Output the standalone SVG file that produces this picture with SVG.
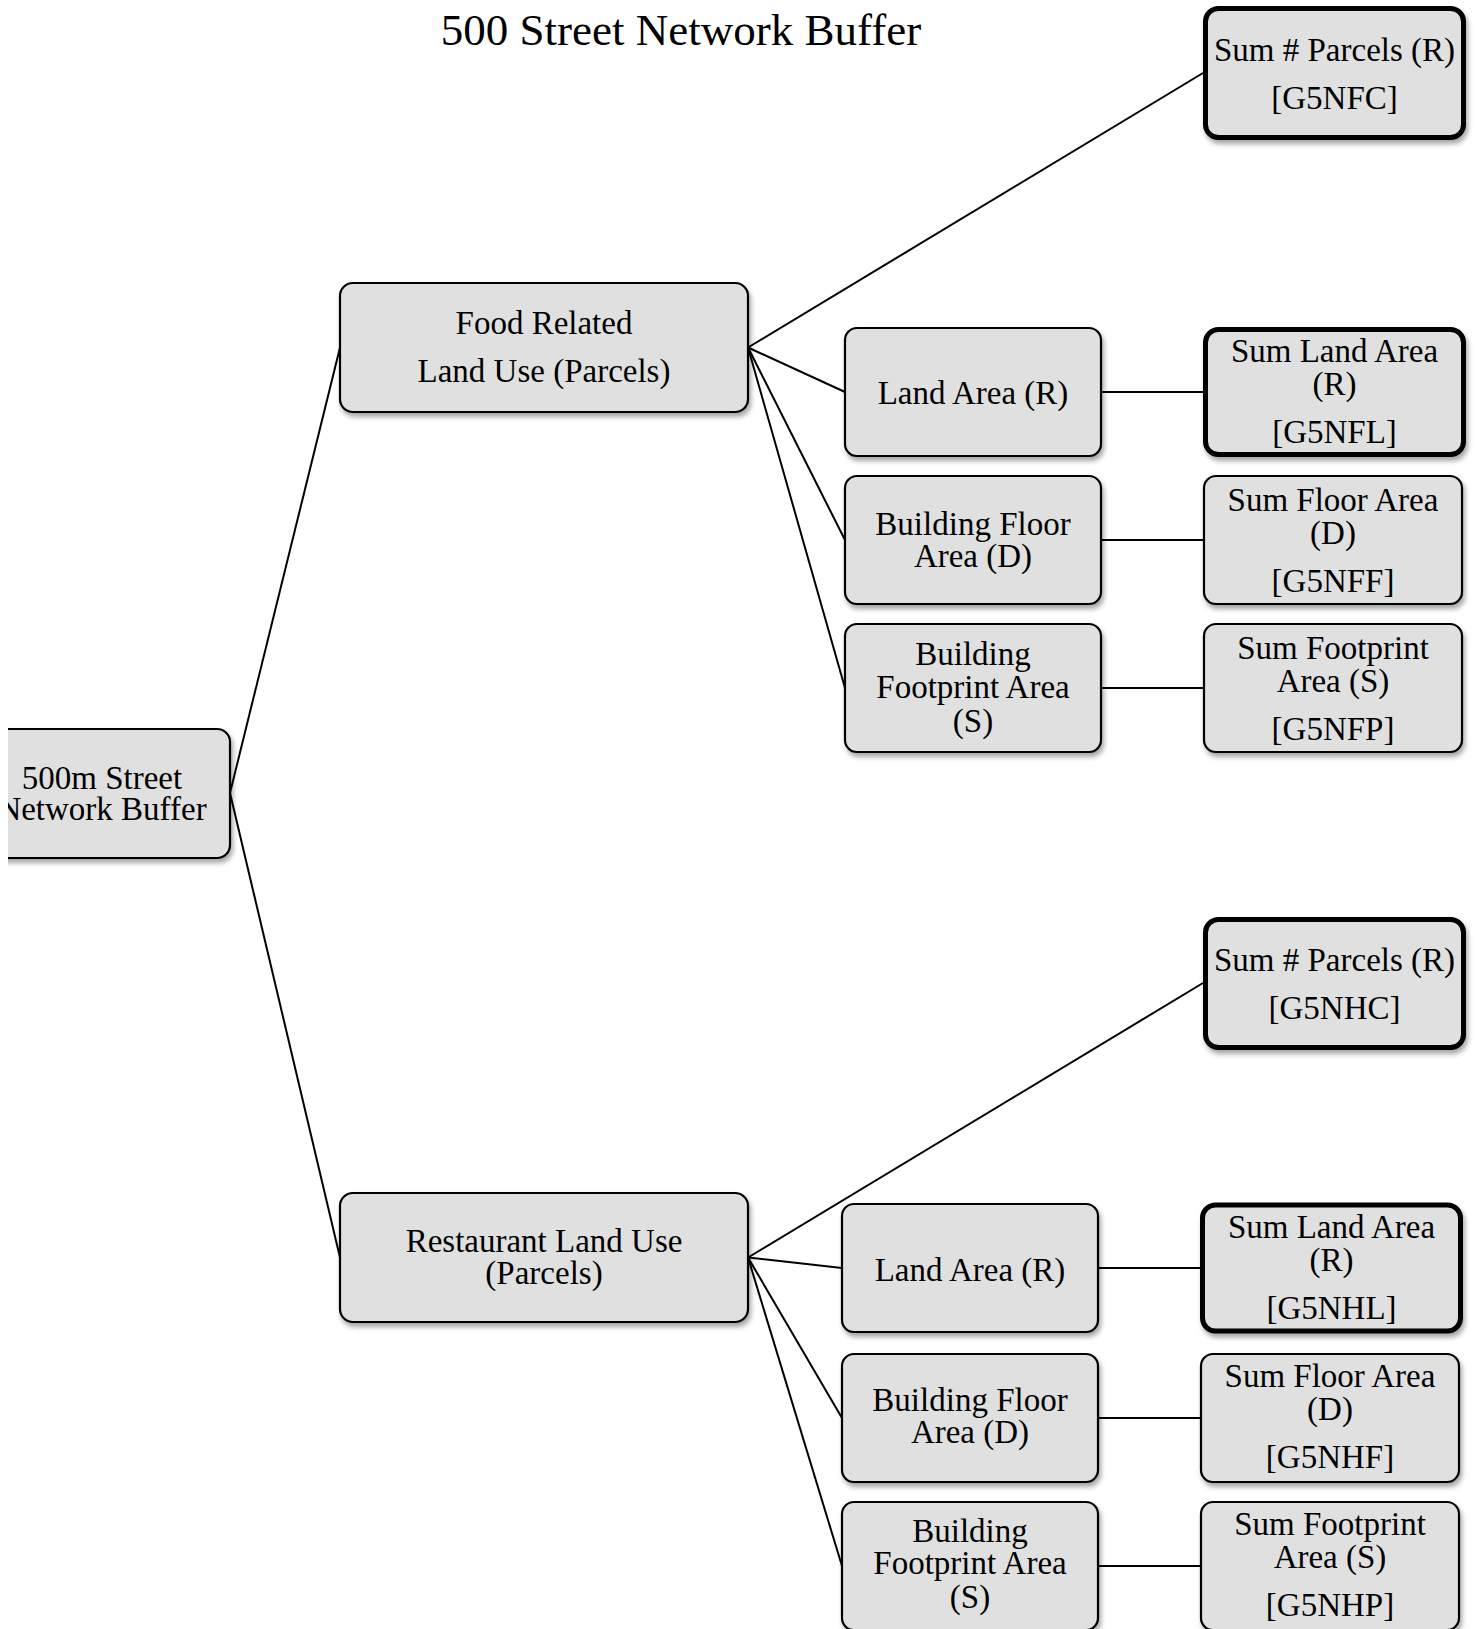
<svg xmlns="http://www.w3.org/2000/svg" width="1476" height="1629" viewBox="0 0 1476 1629">
<defs>
<filter id="sh" x="-10%" y="-10%" width="125%" height="130%">
<feDropShadow dx="2" dy="4" stdDeviation="2.5" flood-color="#000" flood-opacity="0.35"/>
</filter>
<clipPath id="clipL"><rect x="8" y="0" width="1468" height="1629"/></clipPath>
</defs>
<style>
.box{fill:#e0e0e0;stroke:#000;stroke-width:2.2;filter:url(#sh)}
.thick{fill:#e0e0e0;stroke:#000;stroke-width:5;filter:url(#sh)}
.t{font-family:"Liberation Serif","Times New Roman",serif;font-size:33px;fill:#000;text-anchor:middle}
.title{font-family:"Liberation Serif","Times New Roman",serif;font-size:45px;fill:#000;text-anchor:middle}
.conn line{stroke:#000;stroke-width:2}
</style>
<rect width="1476" height="1629" fill="#fff"/>
<text class="title" x="681" y="45">500 Street Network Buffer</text>

<g id="connectors" class="conn">
<line x1="230" y1="793" x2="340" y2="347.5"/>
<line x1="230" y1="793" x2="340" y2="1257.5"/>
<line x1="748" y1="347.5" x2="1203" y2="73"/>
<line x1="748" y1="347.5" x2="845" y2="392"/>
<line x1="748" y1="347.5" x2="845" y2="540"/>
<line x1="748" y1="347.5" x2="845" y2="688"/>
<line x1="1101" y1="392" x2="1204" y2="392"/>
<line x1="1101" y1="540" x2="1204" y2="540"/>
<line x1="1101" y1="688" x2="1204" y2="688"/>
<line x1="748" y1="1257.5" x2="1203" y2="983"/>
<line x1="748" y1="1257.5" x2="842" y2="1268"/>
<line x1="748" y1="1257.5" x2="842" y2="1418"/>
<line x1="748" y1="1257.5" x2="842" y2="1566"/>
<line x1="1098" y1="1268" x2="1201" y2="1268"/>
<line x1="1098" y1="1418" x2="1201" y2="1418"/>
<line x1="1098" y1="1566" x2="1201" y2="1566"/>
</g>

<g id="root" clip-path="url(#clipL)">
<rect class="box" x="-30" y="729" width="260" height="129" rx="13"/>
<text class="t" x="102" y="789">500m Street</text>
<text class="t" x="102" y="820">Network Buffer</text>
</g>

<g id="food">
<rect class="box" x="340" y="283" width="408" height="129" rx="13"/>
<text class="t" x="544" y="334">Food Related</text>
<text class="t" x="544" y="382">Land Use (Parcels)</text>
</g>

<g id="restaurant">
<rect class="box" x="340" y="1193" width="408" height="129" rx="13"/>
<text class="t" x="544" y="1252">Restaurant Land Use</text>
<text class="t" x="544" y="1284">(Parcels)</text>
</g>

<g id="f-land">
<rect class="box" x="845" y="328" width="256" height="128" rx="12"/>
<text class="t" x="973" y="404">Land Area (R)</text>
</g>
<g id="f-floor">
<rect class="box" x="845" y="476" width="256" height="128" rx="12"/>
<text class="t" x="973" y="535">Building Floor</text>
<text class="t" x="973" y="567">Area (D)</text>
</g>
<g id="f-foot">
<rect class="box" x="845" y="624" width="256" height="128" rx="12"/>
<text class="t" x="973" y="665">Building</text>
<text class="t" x="973" y="698">Footprint Area</text>
<text class="t" x="973" y="732">(S)</text>
</g>

<g id="f-sumparcels">
<rect class="thick" x="1205.5" y="8.5" width="258" height="129" rx="13"/>
<text class="t" x="1334.5" y="61">Sum # Parcels (R)</text>
<text class="t" x="1334.5" y="109">[G5NFC]</text>
</g>
<g id="f-sumland">
<rect class="thick" x="1205.5" y="329.5" width="258" height="125" rx="13"/>
<text class="t" x="1334.5" y="362">Sum Land Area</text>
<text class="t" x="1334.5" y="395">(R)</text>
<text class="t" x="1334.5" y="443">[G5NFL]</text>
</g>
<g id="f-sumfloor">
<rect class="box" x="1204" y="476" width="258" height="128" rx="12"/>
<text class="t" x="1333" y="511">Sum Floor Area</text>
<text class="t" x="1333" y="544">(D)</text>
<text class="t" x="1333" y="592">[G5NFF]</text>
</g>
<g id="f-sumfoot">
<rect class="box" x="1204" y="624" width="258" height="128" rx="12"/>
<text class="t" x="1333" y="659">Sum Footprint</text>
<text class="t" x="1333" y="692">Area (S)</text>
<text class="t" x="1333" y="740">[G5NFP]</text>
</g>

<g id="r-land">
<rect class="box" x="842" y="1204" width="256" height="128" rx="12"/>
<text class="t" x="970" y="1281">Land Area (R)</text>
</g>
<g id="r-floor">
<rect class="box" x="842" y="1354" width="256" height="128" rx="12"/>
<text class="t" x="970" y="1411">Building Floor</text>
<text class="t" x="970" y="1443">Area (D)</text>
</g>
<g id="r-foot">
<rect class="box" x="842" y="1502" width="256" height="128" rx="12"/>
<text class="t" x="970" y="1542">Building</text>
<text class="t" x="970" y="1574">Footprint Area</text>
<text class="t" x="970" y="1608">(S)</text>
</g>

<g id="r-sumparcels">
<rect class="thick" x="1205.5" y="919.5" width="258" height="128" rx="13"/>
<text class="t" x="1334.5" y="971">Sum # Parcels (R)</text>
<text class="t" x="1334.5" y="1019">[G5NHC]</text>
</g>
<g id="r-sumland">
<rect class="thick" x="1202.5" y="1205" width="258" height="126" rx="13"/>
<text class="t" x="1331.5" y="1238">Sum Land Area</text>
<text class="t" x="1331.5" y="1271">(R)</text>
<text class="t" x="1331.5" y="1319">[G5NHL]</text>
</g>
<g id="r-sumfloor">
<rect class="box" x="1201" y="1354" width="258" height="128" rx="12"/>
<text class="t" x="1330" y="1387">Sum Floor Area</text>
<text class="t" x="1330" y="1420">(D)</text>
<text class="t" x="1330" y="1468">[G5NHF]</text>
</g>
<g id="r-sumfoot">
<rect class="box" x="1201" y="1502" width="258" height="128" rx="12"/>
<text class="t" x="1330" y="1535">Sum Footprint</text>
<text class="t" x="1330" y="1568">Area (S)</text>
<text class="t" x="1330" y="1616">[G5NHP]</text>
</g>
</svg>
